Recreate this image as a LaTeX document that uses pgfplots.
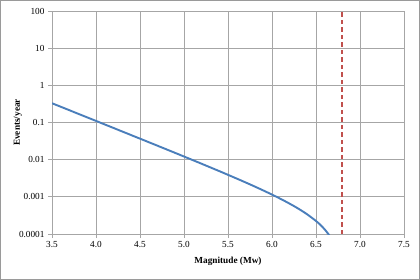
\documentclass[border=0pt]{standalone}
\usepackage{pgfplots}
\pgfplotsset{compat=1.18}
\usepackage{fontspec}
\setmainfont{Liberation Serif}
\definecolor{curveblue}{HTML}{4A7EBB}
\definecolor{dashred}{HTML}{C0504D}
\definecolor{gridgray}{HTML}{A6A6A6}
\definecolor{framegray}{HTML}{9A9A9A}
\begin{document}
\begin{tikzpicture}
\draw[framegray, line width=1.2bp] (0.6bp,0.6bp) rectangle (419.4bp,279.4bp);
\begin{axis}[
  at={(52bp,46bp)}, anchor=south west,
  scale only axis, width=352bp, height=223bp,
  xmin=3.5, xmax=7.5, ymode=log, ymin=1e-4, ymax=100,
  xtick={3.5,4.0,4.5,5.0,5.5,6.0,6.5,7.0,7.5},
  xticklabels={3.5,4.0,4.5,5.0,5.5,6.0,6.5,7.0,7.5},
  ytick={1e-4,1e-3,1e-2,1e-1,1,10,100},
  yticklabels={0.0001,0.001,0.01,0.1,1,10,100},
  minor tick num=0, yminorticks=false,
  grid=major,
  major grid style={gridgray, line width=0.8bp},
  axis line style={gridgray, line width=0.8bp},
  tick style={gridgray, line width=0.8bp},
  tick align=outside, major tick length=4bp,
  xtick pos=left, ytick pos=left,
  tick label style={font=\fontsize{9.3}{11}\selectfont, text=black},
  xlabel={\textbf{Magnitude (Mw)}},
  ylabel={\textbf{Events/year}},
  label style={font=\fontsize{9.3}{11}\selectfont},
  xlabel style={at={(axis description cs:0.5,-0.121)}, anchor=center},
  ylabel style={at={(axis description cs:-0.097,0.5)}, anchor=center},
]
\addplot[curveblue, line width=1.9bp, smooth] coordinates {
(3.5,0.3298) (3.6,0.2649) (3.7,0.2128) (3.8,0.1710) (3.9,0.1373)
(4.0,0.1103) (4.1,0.0886) (4.2,0.0711) (4.3,0.0571) (4.4,0.0458)
(4.5,0.0368) (4.6,0.0295) (4.7,0.02367) (4.8,0.01897) (4.9,0.01520)
(5.0,0.01216) (5.1,0.00973) (5.2,0.00777) (5.3,0.00619) (5.4,0.00493)
(5.5,0.00391) (5.6,0.003095) (5.7,0.002439) (5.8,0.001913) (5.9,0.001489)
(6.0,0.001149) (6.1,0.000876) (6.2,0.000656) (6.3,0.000480) (6.4,0.000338)
(6.5,0.000224) (6.55,0.000176) (6.6,0.000132) (6.65,0.000093) (6.68,0.000072)
};
\addplot[dashred, line width=2.1bp, dash pattern=on 4.5bp off 3bp] coordinates {
(6.8,0.0001) (6.8,100)
};
\end{axis}
\end{tikzpicture}
\end{document}
